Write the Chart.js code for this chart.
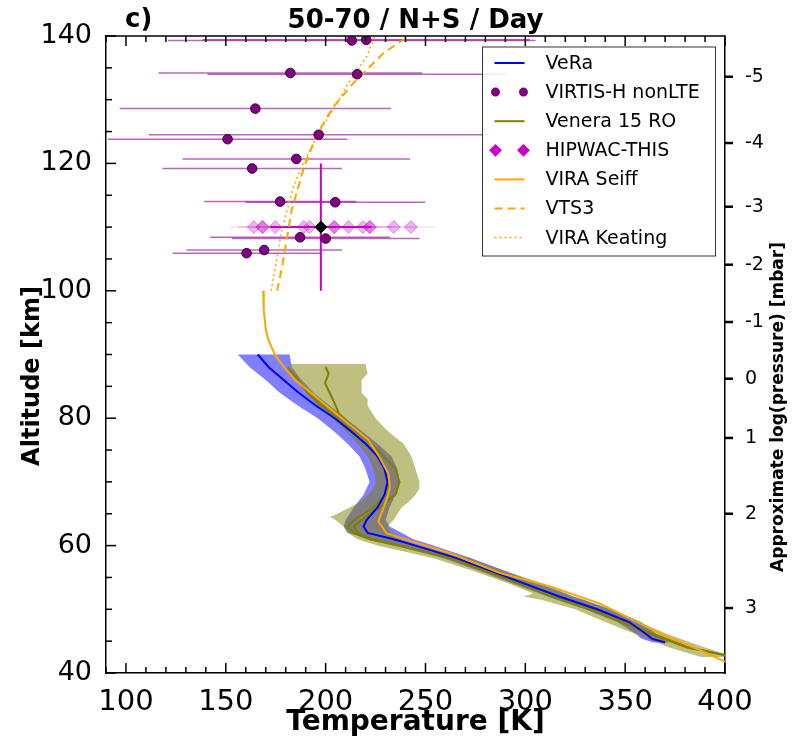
<!DOCTYPE html>
<html>
<head>
<meta charset="utf-8">
<script src="https://cdn.jsdelivr.net/npm/chart.js@4.4.1/dist/chart.umd.min.js"></script>
<style>
  html, body { margin: 0; padding: 0; background: #fff; overflow: hidden; }
  #chart { display: block; }
</style>
</head>
<body>
<canvas id="chart" width="795" height="742"></canvas>
<script>
// Temperature profiles, 50-70 N+S, dayside
const xTicks = [100, 150, 200, 250, 300, 350, 400];
const yTicks = [40, 60, 80, 100, 120, 140];
const pressureLabels = ['-5', '-4', '-3', '-2', '-1', '0', '1', '2', '3'];
const pressureAlt = [133.6, 123.2, 113.2, 104.1, 95.1, 86.2, 76.9, 65.0, 50.2];

// VeRa mean profile and spread
const veraAlt = [90, 88, 86, 84, 82, 80, 78, 76, 74, 72, 70, 68, 66, 64, 63, 62, 61, 60, 58, 56, 54, 52, 50, 48, 46, 45.4, 44.8];
const veraT = [166, 171.5, 179, 186.5, 195, 204.5, 212.5, 220, 226, 229.5, 231, 229.5, 226, 220.5, 219, 221, 234, 245, 266, 283, 300, 317, 336, 352, 361, 363.3, 370];
const veraLo = [156, 162, 170, 177, 186, 196, 204, 211, 217, 220, 222, 219, 214, 210, 209, 211, 222, 236, 259, 277, 294, 311, 330, 346, 356, 358, 364];
const veraHi = [182, 183, 188, 194, 202, 210, 218, 226, 233, 236, 237, 235, 232, 230, 232, 238, 244, 254, 273, 290, 307, 324, 343, 358, 366, 368, 372];

// Venera 15 radio occultation: spread and two profiles
const veneraAlt = [88.5, 87, 86, 84, 83, 82, 80, 78, 76, 74, 72, 70, 69, 68, 67, 66, 65, 64.5, 64, 63, 62, 61, 60, 58, 56, 54, 52.5, 52, 51.5, 50, 48, 46, 44, 42.5];
const veneraLo = [182, 184, 186, 190, 193, 196, 203, 210, 216, 221, 224, 225, 224, 221, 218, 212, 206, 202, 205, 209, 211, 216, 226, 254, 274, 292, 304, 299, 308, 325, 340, 356, 372, 388];
const veneraHi = [220, 221, 218, 218, 221, 221, 225, 231, 239, 243, 245, 247, 247, 245, 242, 238, 236, 235, 234, 231, 233, 238, 246, 272, 290, 309, 321, 324, 330, 342, 357, 372, 390, 405];
const ven1Alt = [88, 86, 84, 82, 80, 78, 76, 74, 72, 70, 68, 66, 64, 63, 62, 61, 60, 58, 56, 54, 52, 50, 48, 46, 44, 42];
const ven1T = [181, 186, 191, 198, 206, 213, 220, 226, 230, 232, 230, 224, 214, 211, 214, 222, 236, 262, 280, 297, 313, 332, 348, 364, 381, 412];
const ven2Alt = [88, 87, 85.5, 84, 82, 80.8, 80, 78, 76, 74, 72, 70, 68, 66, 64, 63, 62, 61, 60, 58, 56, 54, 52, 50, 48, 46, 44, 42];
const ven2T = [200, 201.5, 199.7, 202, 205, 206.5, 209, 215, 223, 229, 235, 237, 235, 227, 218, 214, 216, 224, 238, 263, 281, 298, 314, 333, 349, 365, 382, 413];

// Reference models
const seiffAlt = [100, 97, 94, 92.3, 89.9, 88.1, 86, 83.9, 81.3, 78.7, 76.6, 74.2, 71.3, 69.2, 67.2, 64.5, 63.8, 61.9, 60.9, 58.8, 55.7, 53.6, 50.9, 48.3, 45.7, 43.6, 41.8];
const seiffT = [168.7, 169, 170, 171.3, 174.7, 178.9, 184.8, 193, 203.1, 213.1, 221.4, 226.4, 231.4, 232.2, 230.6, 227.2, 226.4, 230.6, 240.6, 262.3, 287.3, 312.4, 337.4, 354.1, 370.8, 387.5, 400];
const vts3Alt = [100, 104.3, 112.7, 119, 124.5, 128.9, 132.6, 137.3, 139.1, 140];
const vts3T = [175.7, 178.5, 183, 188.8, 195.5, 203.9, 213.9, 228.9, 237.3, 242.3];
const keatingAlt = [100, 103.5, 109.5, 116.3, 120, 124.7, 129.4, 132.6, 136.8, 140];
const keatingT = [172.7, 174.7, 178, 183.8, 188.8, 196.3, 205.6, 211.4, 220.6, 224.7];

// VIRTIS-H nonLTE retrievals with temperature errors
const virtisAlt = [139.3, 139.4, 134.2, 134.0, 128.6, 123.8, 124.5, 120.7, 119.2, 114.0, 113.9, 108.4, 108.2, 106.4, 105.9];
const virtisT = [213.1, 220.3, 182.3, 215.8, 164.8, 150.9, 196.5, 185.3, 163.2, 177.2, 204.8, 187.2, 200.0, 169.2, 160.4];
const virtisErr = [92, 82, 66, 75, 68, 60, 85, 57, 45, 38, 45, 45, 47, 39, 37];

// HIPWAC-THIS individual values and mean
const hipwacT = [164.0, 168.2, 168.6, 174.8, 189.0, 192.0, 204.1, 204.5, 211.4, 218.6, 221.9, 222.3, 234.1, 242.7];
const hipwacAlt = [110, 110, 110, 110, 110, 110, 110, 110, 110, 110, 110, 110, 110, 110];
const hipwacErr = [12, 12, 12, 12, 12, 12, 12, 12, 12, 12, 12, 12, 12, 12];
const hipwacMeanT = [197.6];
const hipwacMeanAlt = [110];
const hipwacMeanErrT = [25.3];
const hipwacMeanErrAlt = [10];

const legendOrder = ['VeRa', 'VIRTIS-H nonLTE', 'Venera 15 RO', 'HIPWAC-THIS', 'VIRA Seiff', 'VTS3', 'VIRA Keating'];

const pts = (xs, ys) => xs.map((v, i) => ({x: v, y: ys[i]}));
const profile = (label, xs, ys, color, order, extra) => Object.assign({
  label, data: pts(xs, ys), showLine: true, borderColor: color, borderWidth: 2,
  pointRadius: 0, fill: false, tension: 0, order
}, extra || {});

const bands = [
  {alt: veraAlt, lo: veraLo, hi: veraHi, color: 'rgba(0,0,255,0.5)'},
  {alt: veneraAlt, lo: veneraLo, hi: veneraHi, color: 'rgba(128,128,0,0.5)'}
];

Chart.defaults.font.family = 'DejaVu Sans';
Chart.defaults.color = '#000';

const ink = (ctx, x1, y1, x2, y2) => { ctx.beginPath(); ctx.moveTo(x1, y1); ctx.lineTo(x2, y2); ctx.stroke(); };

// shaded spreads + error bars under the data
const underlay = {
  id: 'underlay',
  beforeDatasetsDraw(chart) {
    const {ctx, chartArea: a, scales: {x, y}} = chart;
    ctx.save();
    ctx.beginPath(); ctx.rect(a.left, a.top, a.width, a.height); ctx.clip();
    bands.forEach(b => {
      ctx.beginPath();
      b.alt.forEach((h, i) => {
        const px = x.getPixelForValue(b.lo[i]), py = y.getPixelForValue(h);
        if (i) ctx.lineTo(px, py); else ctx.moveTo(px, py);
      });
      for (let i = b.alt.length - 1; i >= 0; i--) ctx.lineTo(x.getPixelForValue(b.hi[i]), y.getPixelForValue(b.alt[i]));
      ctx.closePath();
      ctx.fillStyle = b.color;
      ctx.fill();
    });
    ctx.lineWidth = 1.5;
    ctx.strokeStyle = 'rgba(140,0,140,0.6)';
    virtisT.forEach((t, i) => {
      const py = y.getPixelForValue(virtisAlt[i]);
      ink(ctx, x.getPixelForValue(t - virtisErr[i]), py, x.getPixelForValue(t + virtisErr[i]), py);
    });
    ctx.strokeStyle = 'rgba(200,0,200,0.12)';
    hipwacT.forEach((t, i) => {
      const py = y.getPixelForValue(hipwacAlt[i]);
      ink(ctx, x.getPixelForValue(t - hipwacErr[i]), py, x.getPixelForValue(t + hipwacErr[i]), py);
    });
    ctx.strokeStyle = 'rgb(200,0,200)';
    ctx.lineWidth = 2;
    hipwacMeanT.forEach((t, i) => {
      const px = x.getPixelForValue(t), py = y.getPixelForValue(hipwacMeanAlt[i]);
      ink(ctx, x.getPixelForValue(t - hipwacMeanErrT[i]), py, x.getPixelForValue(t + hipwacMeanErrT[i]), py);
      ink(ctx, px, y.getPixelForValue(hipwacMeanAlt[i] - hipwacMeanErrAlt[i]), px, y.getPixelForValue(hipwacMeanAlt[i] + hipwacMeanErrAlt[i]));
    });
    ctx.restore();
  }
};

// ticks, spines, titles, legend
const overlay = {
  id: 'overlay',
  afterDraw(chart) {
    const {ctx, chartArea: a, scales: {x, y}} = chart;
    ctx.save();
    ctx.strokeStyle = '#000';
    ctx.lineWidth = 1.5;
    ink(ctx, a.left, a.top, a.right, a.top);
    for (let t = 90; t <= 400; t += 10) {
      const px = x.getPixelForValue(t), len = xTicks.includes(t) ? 10 : 6;
      ink(ctx, px, a.bottom, px, a.bottom - len);
      ink(ctx, px, a.top, px, a.top + len);
    }
    for (let h = 40; h <= 140; h += 5) {
      const py = y.getPixelForValue(h), len = yTicks.includes(h) ? 10 : 6;
      ink(ctx, a.left, py, a.left + len, py);
    }
    ctx.lineWidth = 2.5;
    pressureAlt.forEach(h => {
      const py = y.getPixelForValue(h);
      ink(ctx, a.right, py, a.right + 8, py);
    });

    // titles
    ctx.fillStyle = '#000';
    ctx.textBaseline = 'middle';
    ctx.font = 'bold 26px "DejaVu Sans"';
    ctx.textAlign = 'left';
    ctx.fillText('c)', 125, 20);
    ctx.textAlign = 'center';
    ctx.fillText('50-70 / N+S / Day', (a.left + a.right) / 2, 21);

    ctx.save();
    ctx.translate(33, 376);
    ctx.rotate(-Math.PI / 2);
    ctx.font = 'bold 24px "DejaVu Sans"';
    ctx.fillText('Altitude [km]', 0, 0);
    ctx.restore();

    ctx.save();
    ctx.translate(779, 407);
    ctx.rotate(-Math.PI / 2);
    ctx.font = 'bold 17px "DejaVu Sans"';
    ctx.fillText('Approximate log(pressure) [mbar]', 0, 0);
    ctx.restore();

    // legend box
    const bx = a.right - 242.5, by = a.top + 11, bw = 233, bh = 209;
    ctx.fillStyle = 'rgba(255,255,255,0.85)';
    ctx.fillRect(bx, by, bw, bh);
    ctx.strokeStyle = '#333';
    ctx.lineWidth = 1;
    ctx.strokeRect(bx, by, bw, bh);
    ctx.font = '19px "DejaVu Sans"';
    ctx.textAlign = 'left';
    legendOrder.forEach((name, i) => {
      const ds = chart.data.datasets.find(d => d.label === name);
      const ly = by + 16 + i * 29.1, x0 = bx + 12, x1 = bx + 42;
      if (ds.showLine) {
        ctx.strokeStyle = ds.borderColor;
        ctx.lineWidth = ds.borderWidth;
        ctx.setLineDash(ds.borderDash || []);
        ink(ctx, x0, ly, x1, ly);
        ctx.setLineDash([]);
      } else {
        ctx.fillStyle = ds.legendColor;
        ctx.strokeStyle = ds.legendColor;
        [x0 + 1, x1 - 1].forEach(px => Chart.helpers.drawPoint(ctx, {pointStyle: ds.pointStyle, radius: ds.legendRadius, rotation: 0, borderWidth: 1}, px, ly));
      }
      ctx.fillStyle = '#000';
      ctx.fillText(name, bx + 63, ly + 1);
    });
    ctx.restore();
  }
};

new Chart(document.getElementById('chart'), {
  type: 'scatter',
  data: {
    datasets: [
      profile('Venera 15 RO', ven1T, ven1Alt, '#808000', 8),
      profile('Venera 15 RO (2)', ven2T, ven2Alt, '#808000', 8),
      profile('VeRa', veraT, veraAlt, '#0000ff', 7),
      profile('VIRA Seiff', seiffT, seiffAlt, '#ffa500', 6),
      profile('VTS3', vts3T, vts3Alt, '#ffa500', 5, {borderDash: [8, 5]}),
      profile('VIRA Keating', keatingT, keatingAlt, '#ffa500', 4, {borderDash: [2, 3], borderWidth: 1.5}),
      {
        label: 'HIPWAC-THIS', data: pts(hipwacT, hipwacAlt), order: 3,
        pointStyle: 'rectRot', pointRadius: 6.5, pointBorderWidth: 1,
        backgroundColor: 'rgba(200,0,200,0.3)', borderColor: 'rgba(160,0,160,0.32)',
        legendColor: 'rgb(200,0,200)', legendRadius: 5
      },
      {
        label: 'HIPWAC mean', data: pts(hipwacMeanT, hipwacMeanAlt), order: 1,
        pointStyle: 'rectRot', pointRadius: 6, pointBorderWidth: 1,
        backgroundColor: '#000', borderColor: '#000'
      },
      {
        label: 'VIRTIS-H nonLTE', data: pts(virtisT, virtisAlt), order: 2,
        pointStyle: 'circle', pointRadius: 4.8, pointBorderWidth: 1,
        backgroundColor: '#800080', borderColor: '#3c003c',
        legendColor: '#800080', legendRadius: 3.5
      }
    ]
  },
  options: {
    responsive: false,
    animation: false,
    events: [],
    layout: {padding: {top: 36, left: 0, right: 0, bottom: 0}},
    plugins: {legend: {display: false}, tooltip: {enabled: false}},
    scales: {
      x: {
        type: 'linear', position: 'bottom', min: 90, max: 400,
        afterBuildTicks: s => { s.ticks = xTicks.map(v => ({value: v})); },
        afterFit: s => { s.height = 69; },
        grid: {display: false},
        border: {display: true, color: '#000', width: 1.5},
        ticks: {font: {size: 29}, color: '#000', padding: 4, maxRotation: 0, autoSkip: false},
        title: {display: true, text: 'Temperature [K]', color: '#000', font: {size: 28, weight: 'bold'}, padding: {top: 0, bottom: 2}}
      },
      y: {
        type: 'linear', position: 'left', min: 40, max: 140,
        afterBuildTicks: s => { s.ticks = yTicks.map(v => ({value: v})); },
        afterFit: s => { s.width = 106; },
        grid: {display: false},
        border: {display: true, color: '#000', width: 1.5},
        ticks: {font: {size: 27}, color: '#000', padding: 6, autoSkip: false}
      },
      y2: {
        type: 'linear', position: 'right', min: 40, max: 140,
        afterBuildTicks: s => { s.ticks = pressureAlt.map(v => ({value: v})); },
        afterFit: s => { s.width = 70; },
        grid: {display: false},
        border: {display: true, color: '#000', width: 1.5},
        ticks: {font: {size: 19}, color: '#000', padding: 12, autoSkip: false,
          callback: (v, i) => pressureLabels[i]}
      }
    }
  },
  plugins: [underlay, overlay]
});
</script>
</body>
</html>
